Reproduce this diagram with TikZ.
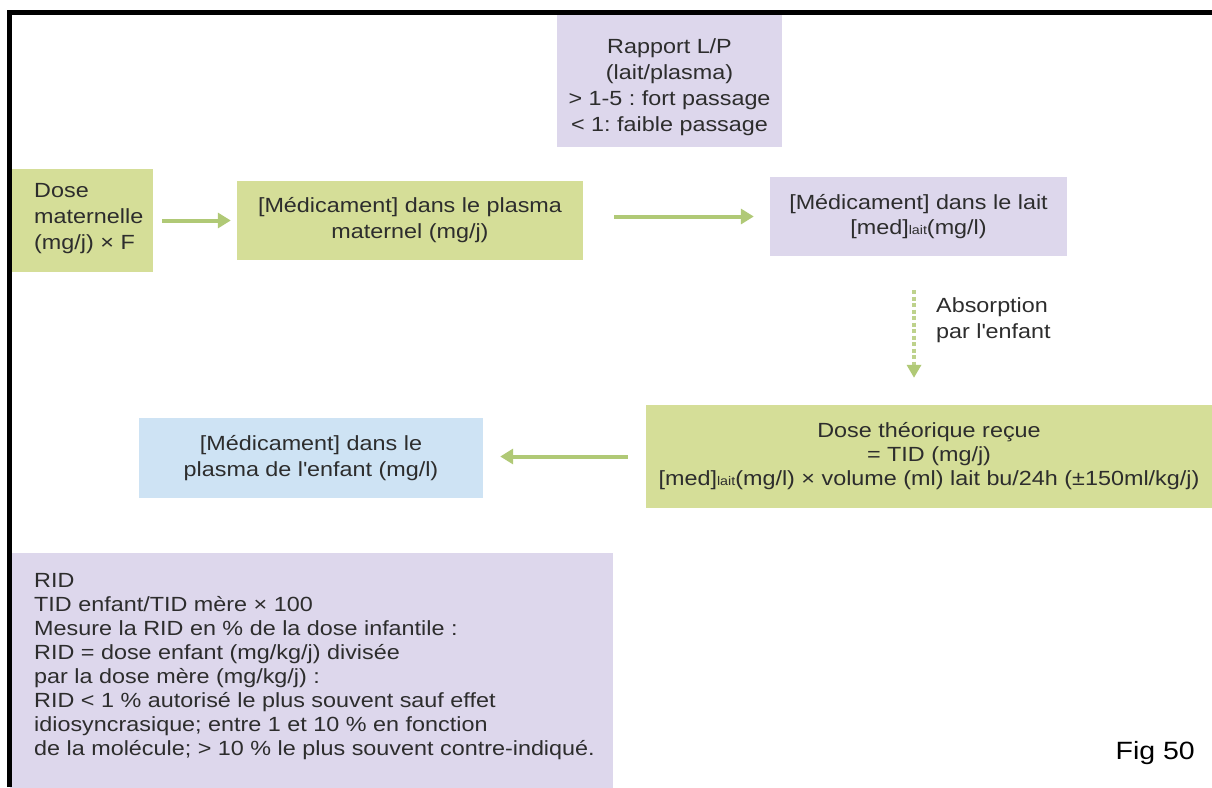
\documentclass[tikz,border=0pt]{standalone}
\usepackage{fontspec}
\setmainfont{Liberation Sans}[FakeStretch=1.14]
\usetikzlibrary{arrows.meta}
\definecolor{boxgreen}{RGB}{213,222,152}
\definecolor{boxpurple}{RGB}{221,215,236}
\definecolor{boxblue}{RGB}{206,227,244}
\definecolor{arrowgreen}{RGB}{176,201,118}
\definecolor{dashgreen}{RGB}{190,210,140}
\definecolor{txt}{RGB}{45,45,45}
\newcommand{\laitsub}{{\fontsize{12.5}{12.5}\selectfont lait}}
\frenchspacing
\begin{document}
\begin{tikzpicture}[x=1pt,y=-1pt,
  box/.style={rectangle, inner sep=0pt, text=txt, align=center, font=\fontsize{20.5}{26}\selectfont},
  lowbox/.style={rectangle, inner sep=0pt, text=txt, align=center, font=\fontsize{20.5}{24}\selectfont},
  label text/.style={inner sep=0pt, text=txt, font=\fontsize{20.5}{26}\selectfont},
  flow/.style={line width=4pt, draw=arrowgreen, -{Triangle[length=13pt,width=15pt]}},
  dashflow/.style={line width=4.5pt, draw=dashgreen, dash pattern=on 4pt off 2.5pt, -{Triangle[length=13pt,width=14pt,color=arrowgreen]}}]
\useasboundingbox (0,0) rectangle (1212,787);
\fill[white] (0,0) rectangle (1212,787);

% boxes
\node[box, fill=boxpurple, minimum width=225pt, minimum height=132pt] (rap) at (669.5,81) {};
\node[label text, align=center] (raptxt) at (669.5,87) {Rapport L/P\\(lait/plasma)\\> 1-5 : fort passage\\< 1: faible passage};

\node[box, fill=boxgreen, minimum width=143pt, minimum height=103pt] (dose) at (81.5,220.5) {};
\node[label text, align=left, anchor=west] (dosetxt) at (34,219) {Dose\\maternelle\\(mg/j) × F};

\node[box, fill=boxgreen, minimum width=346pt, minimum height=79pt] (plasma) at (410,220.5) {[Médicament] dans le plasma\\maternel (mg/j)};

\node[box, fill=boxpurple, minimum width=297pt, minimum height=79pt, font=\fontsize{20.5}{25}\selectfont] (lait) at (918.5,216.5) {[Médicament] dans le lait\\{[}med{]}\laitsub(mg/l)};

\node[lowbox, fill=boxgreen, minimum width=566pt, minimum height=103pt] (tid) at (929,456.5) {Dose théorique reçue\\= TID (mg/j)\\{[}med{]}\laitsub(mg/l) × volume (ml) lait bu/24h (±150ml/kg/j)};

\node[box, fill=boxblue, minimum width=344pt, minimum height=80pt] (blue) at (311,458) {[Médicament] dans le\\plasma de l\textquotesingle enfant (mg/l)};

\node[box, fill=boxpurple, minimum width=603pt, minimum height=240pt] (rid) at (311.5,673) {};
\node[lowbox, align=left, anchor=north west] (ridtxt) at (34,573) {RID\\TID enfant/TID mère × 100\\Mesure la RID en \% de la dose infantile :\\RID = dose enfant (mg/kg/j) divisée\\par la dose mère (mg/kg/j) :\\RID < 1 \% autorisé le plus souvent sauf effet\\idiosyncrasique; entre 1 et 10 \% en fonction\\de la molécule; > 10 \% le plus souvent contre-indiqué.};

% connectors
\draw[flow, shorten <=9pt, shorten >=6pt] (dose.east) -- (plasma.west);
\draw[flow, shorten <=31pt, shorten >=16pt] (lait.west -| plasma.east) -- (lait.west);
\coordinate (ax) at (914,0);
\draw[dashflow, shorten <=34pt, shorten >=27pt] (lait.south -| ax) -- (tid.north -| ax);
\draw[flow, shorten <=18pt, shorten >=17pt] (tid.west) -- (tid.west -| blue.east);

\node[label text, align=left, anchor=west] (abs) at (936,320) {Absorption\\par l\textquotesingle enfant};

\node[inner sep=0pt, text=black, font=\fontsize{25}{30}\selectfont, anchor=base east] (fig) at (1195,759) {Fig 50};

% frame
\draw[line width=5pt, line cap=butt, line join=miter] (9.5,787) -- (9.5,12.5) -- (1212,12.5);
\end{tikzpicture}
\end{document}
